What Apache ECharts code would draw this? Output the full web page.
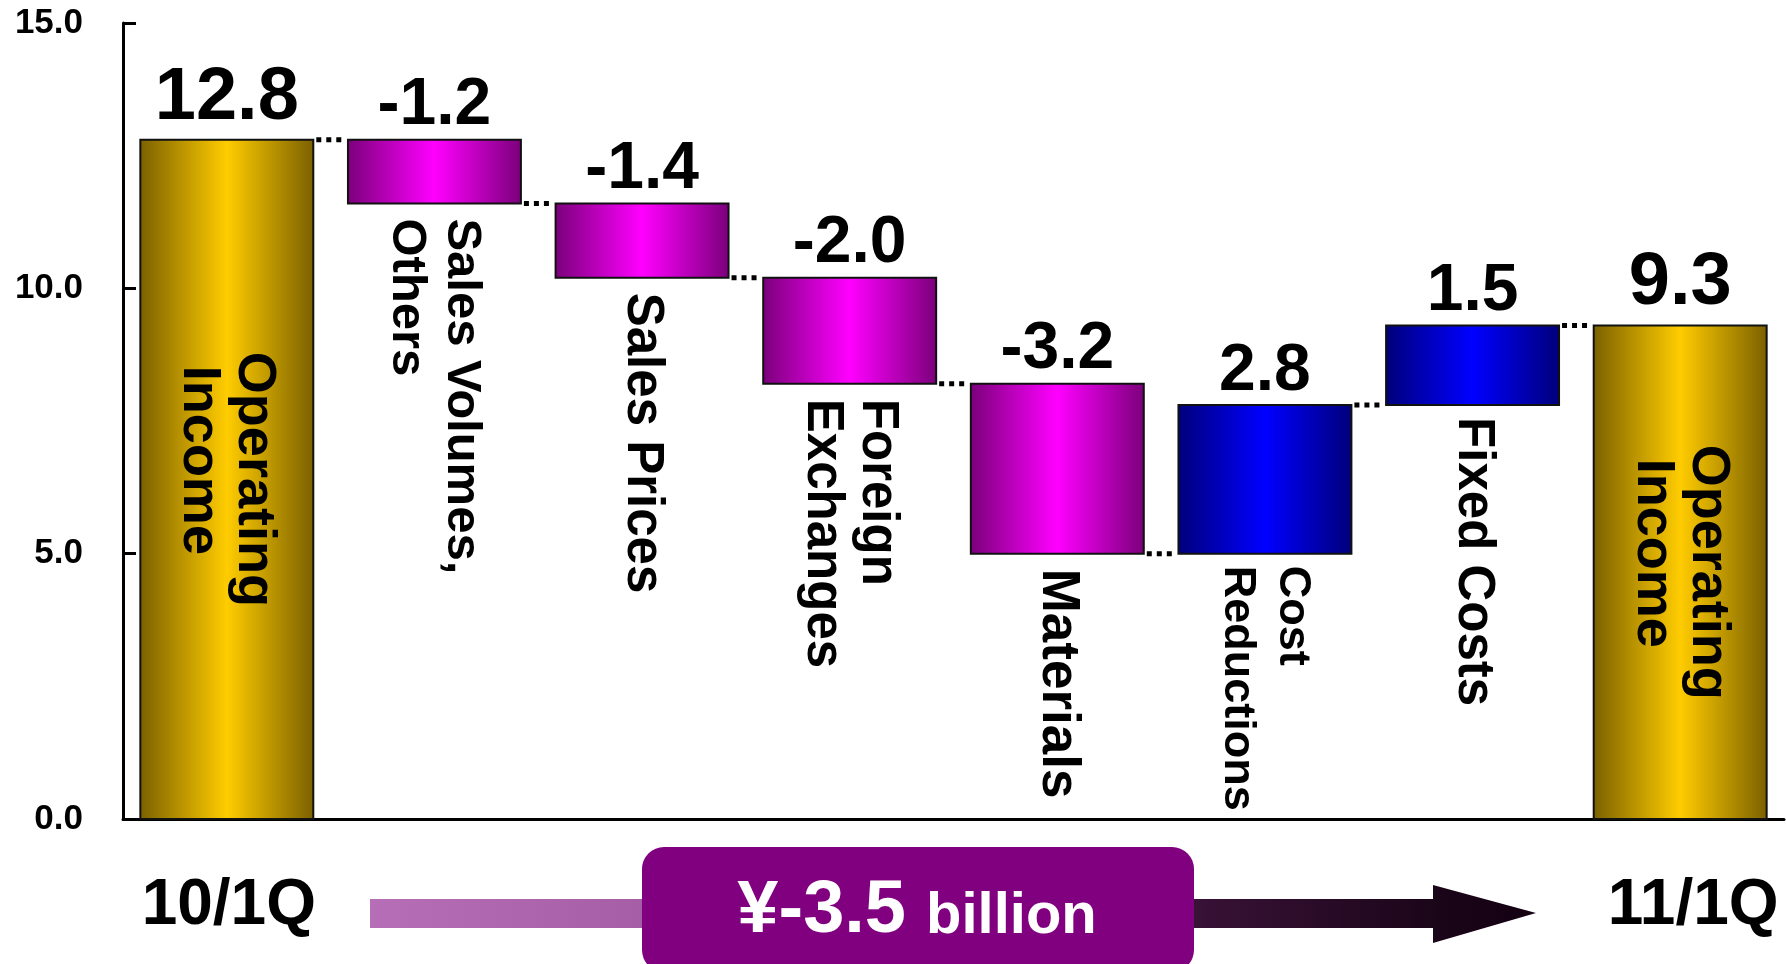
<!DOCTYPE html>
<html>
<head>
<meta charset="utf-8">
<script src="https://cdn.jsdelivr.net/npm/echarts@6/dist/echarts.min.js"></script>
<style>
html,body{margin:0;padding:0;background:#fff;}
#main{width:1786px;height:964px;}
</style>
</head>
<body>
<div id="main"></div>
<script>
// ---------------- data ----------------
const categories = ['Operating\nIncome', 'Sales Volumes,\nOthers', 'Sales Prices', 'Foreign\nExchanges', 'Materials', 'Cost\nReductions', 'Fixed Costs', 'Operating\nIncome'];
const values = [12.8, -1.2, -1.4, -2.0, -3.2, 2.8, 1.5, 9.3];
const isTotal = [true, false, false, false, false, false, false, true];
const yTickValues = [0, 5, 10, 15];
const periodLabels = ['10/1Q', '11/1Q'];
const changeAmount = '¥-3.5';
const changeUnit = 'billion';

// -------------- styles --------------
const FONT = '"Liberation Sans", Arial, Helvetica, sans-serif';
const BAR_RATIO = 0.833;
const catFontSizes = [54, 49, 51, 51, 53, 45, 51, 54];

// -------------- derived floating ranges --------------
let running = 0;
const barData = values.map((v, i) => {
  let low, high, end;
  if (isTotal[i]) { low = 0; high = v; end = v; }
  else {
    const s = running; end = +(s + v).toFixed(2);
    low = Math.min(s, end); high = Math.max(s, end);
  }
  running = end;
  return [i, low, high, v, end];
});

const measureCtx = document.createElement('canvas').getContext('2d');
function textWidth(t, font) { measureCtx.font = font; return measureCtx.measureText(t).width; }

function grad(c0, c1) {
  return new echarts.graphic.LinearGradient(0, 0, 1, 0, [
    { offset: 0, color: c0 }, { offset: 0.5, color: c1 }, { offset: 1, color: c0 }
  ]);
}

function renderItem(params, api) {
  const i = api.value(0), low = api.value(1), high = api.value(2), v = api.value(3), end = api.value(4);
  const total = isTotal[i];
  const pLow = api.coord([i, low]);
  const pHigh = api.coord([i, high]);
  const band = api.size([1, 0])[0];
  const bw = band * BAR_RATIO;
  const cx = pLow[0];
  const top = pHigh[1], bottom = pLow[1];
  let fill;
  if (total) fill = grad('#7A6000', '#FFCC00');
  else if (v < 0) fill = grad('#7A007A', '#FF00FF');
  else fill = grad('#00007A', '#0000FF');

  const children = [];
  children.push({
    type: 'rect',
    shape: { x: cx - bw / 2, y: top, width: bw, height: bottom - top },
    style: { fill: fill, stroke: '#111', lineWidth: 2 }
  });
  // value label
  const vfs = total ? 74 : 66;
  const gap = total ? 15 : 10;
  children.push({
    type: 'text',
    x: cx, y: top - gap - 0.358 * vfs,
    style: { text: v.toFixed(1), font: 'bold ' + vfs + 'px ' + FONT, fill: '#000', align: 'center', verticalAlign: 'middle' }
  });
  // category label (rotated, reading top to bottom)
  const fs = catFontSizes[i];
  const font = 'bold ' + fs + 'px ' + FONT;
  const lh = 55;
  const lines = categories[i].split('\n');
  const n = lines.length;
  let y0;
  if (total) {
    const L = Math.max.apply(null, lines.map(t => textWidth(t, font)));
    y0 = (top + bottom) / 2 - L / 2;
  } else {
    y0 = bottom + (v > 0 ? 12 : 15);
  }
  lines.forEach((t, k) => {
    children.push({
      type: 'text', x: cx + ((n - 1) / 2 - k) * lh, y: y0 + (total ? k * 14 : 0), rotation: -Math.PI / 2,
      style: { text: t, font: font, fill: '#000', align: 'left', verticalAlign: 'middle' }
    });
  });
  // dotted connector to the next bar
  if (i < categories.length - 1) {
    const pe = api.coord([i, end]);
    const pn = api.coord([i + 1, end]);
    children.push({
      type: 'line',
      shape: { x1: cx + bw / 2 + 3, y1: pe[1], x2: pn[0] - bw / 2 - 3, y2: pe[1] },
      style: { stroke: '#000', lineWidth: 5, lineDash: [5, 5] }
    });
  }
  return { type: 'group', children: children };
}

const chart = echarts.init(document.getElementById('main'), null, { renderer: 'canvas' });

const option = {
  animation: false,
  backgroundColor: '#fff',
  grid: { left: 123, right: 2, top: 23, bottom: 145, containLabel: false },
  xAxis: {
    type: 'category',
    data: categories.map((c, i) => i),
    boundaryGap: true,
    axisLine: { show: true, lineStyle: { color: '#000', width: 3 } },
    axisTick: { show: false },
    axisLabel: { show: false },
    splitLine: { show: false }
  },
  yAxis: {
    type: 'value',
    min: yTickValues[0],
    max: yTickValues[yTickValues.length - 1],
    interval: yTickValues[1] - yTickValues[0],
    axisLine: { show: true, lineStyle: { color: '#000', width: 3 } },
    axisTick: { show: true, inside: true, length: 13, lineStyle: { color: '#000', width: 3 } },
    axisLabel: {
      margin: 40,
      color: '#000',
      fontFamily: FONT,
      fontWeight: 'bold',
      fontSize: 35,
      formatter: v => v.toFixed(1)
    },
    splitLine: { show: false }
  },
  series: [{
    type: 'custom',
    renderItem: renderItem,
    encode: { x: 0, y: [1, 2] },
    data: barData,
    clip: false,
    z: 5
  }]
};
chart.setOption(option);

// ---------- bottom annotation row ----------
const cFirst = chart.convertToPixel({ xAxisIndex: 0 }, 0);
const cLast = chart.convertToPixel({ xAxisIndex: 0 }, categories.length - 1);

const arrowGrad = new echarts.graphic.LinearGradient(370, 0, 1536, 0, [
  { offset: 0, color: '#B66EB6' },
  { offset: 0.23, color: '#A65EA6' },
  { offset: 0.5, color: '#6A2C68' },
  { offset: 0.7, color: '#3A1238' },
  { offset: 0.92, color: '#1A0518' },
  { offset: 1, color: '#130011' }
], true);

chart.setOption({
  graphic: [
    {
      type: 'polygon', z: 10,
      shape: { points: [[370, 899], [1433, 899], [1433, 885], [1536, 913], [1433, 943], [1433, 928], [370, 928]] },
      style: { fill: arrowGrad }
    },
    {
      type: 'rect', z: 11,
      shape: { x: 642, y: 847, width: 552, height: 125, r: 22 },
      style: { fill: '#800080' }
    },
    {
      type: 'text', z: 12, x: 906, y: 937 - 0.35 * 74,
      style: { text: changeAmount, font: 'bold 74px ' + FONT, fill: '#fff', align: 'right', verticalAlign: 'middle' }
    },
    {
      type: 'text', z: 12, x: 926, y: 937 - 0.35 * 58,
      style: { text: changeUnit, font: 'bold 58px ' + FONT, fill: '#fff', align: 'left', verticalAlign: 'middle' }
    },
    {
      type: 'text', z: 12, x: cFirst + 2, y: 906,
      style: { text: periodLabels[0], font: 'bold 64px ' + FONT, fill: '#000', align: 'center', verticalAlign: 'middle' }
    },
    {
      type: 'text', z: 12, x: cLast + 13, y: 906,
      style: { text: periodLabels[1], font: 'bold 64px ' + FONT, fill: '#000', align: 'center', verticalAlign: 'middle' }
    }
  ]
});
</script>
</body>
</html>
